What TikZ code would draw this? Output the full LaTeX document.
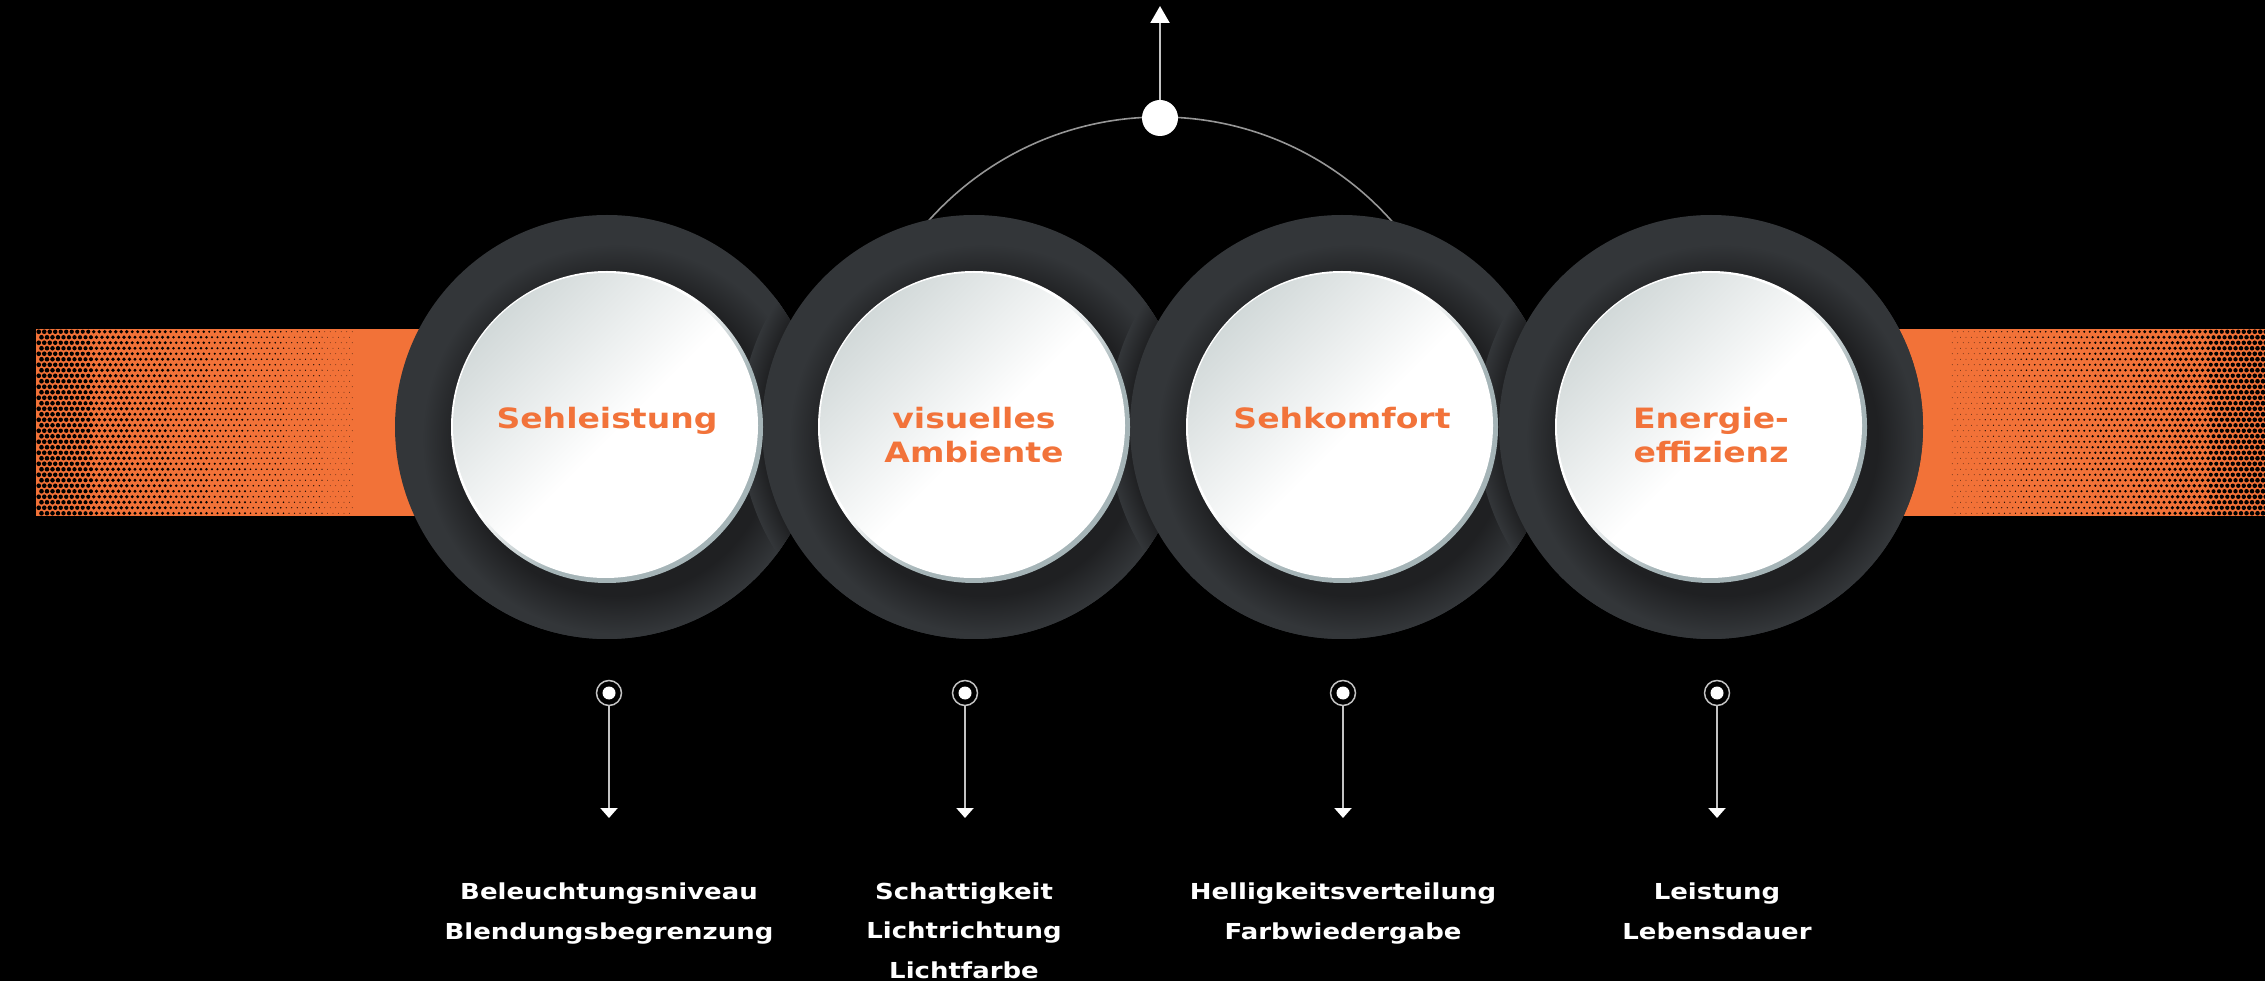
\documentclass[tikz,border=0pt]{standalone}
\usepackage{fontspec}
\usetikzlibrary{arrows.meta}
\newfontfamily\widefont[FakeStretch=1.18]{DejaVu Sans}
\definecolor{bandorange}{RGB}{242,114,56}
\definecolor{txtorange}{RGB}{242,115,58}
\definecolor{ringcol}{RGB}{51,54,57}
\definecolor{ringdark}{RGB}{31,32,34}
\definecolor{facegray}{RGB}{210,217,217}
\definecolor{rimgray}{RGB}{165,180,183}
\definecolor{linegray}{RGB}{195,195,195}
\definecolor{arcgray}{RGB}{150,150,150}
\pgfdeclareradialshading{ringshade}{\pgfpoint{0bp}{0bp}}{color(0bp)=(ringdark); color(18.5bp)=(ringdark); color(23bp)=(ringcol); color(25bp)=(ringcol); color(50bp)=(ringcol)}
\pgfdeclareradialshading{castshade}{\pgfpoint{0bp}{0bp}}{color(0bp)=(ringdark); color(22.6bp)=(ringdark); color(25bp)=(ringcol); color(50bp)=(ringcol)}
\pgfdeclareverticalshading{faceshade}{100bp}{color(0bp)=(white); color(48bp)=(white); color(75bp)=(facegray); color(100bp)=(facegray)}
\pgfdeclareverticalshading{rimshade}{100bp}{color(0bp)=(rimgray); color(40bp)=(rimgray); color(55bp)=(white); color(100bp)=(white)}
\tikzset{
  clabel/.style={font=\widefont\bfseries\fontsize{14}{17}\selectfont, text=txtorange, inner sep=0pt, align=center, anchor=base},
  blabel/.style={font=\widefont\bfseries\fontsize{11}{19.75}\selectfont, text=white, inner sep=0pt, align=center, anchor=base},
  marker/.style={circle, draw=linegray, line width=0.75pt, minimum size=12.5pt, inner sep=0pt,
    path picture={\fill[white] (path picture bounding box.center) circle (3.25pt);}},
  conn/.style={draw=linegray, line width=1pt, -{Triangle[width=8.5pt,length=5pt,color=white]}},
  topdot/.style={circle, fill=white, minimum size=18pt, inner sep=0pt},
  upconn/.style={draw=linegray, line width=1.1pt, -{Triangle[width=9.5pt,length=8.5pt,color=white]}},
  arcline/.style={draw=arcgray, line width=0.8pt}
}
\begin{document}
\begin{tikzpicture}[x=0.5pt,y=0.5pt]
\useasboundingbox (0,0) rectangle (2265,981);
\fill[black] (0,0) rectangle (2265,981);
% orange bands
\fill[bandorange] (36,465) rectangle (620,652);
\fill[bandorange] (1700,465) rectangle (2265,652);
% halftone dots
\foreach \j in {0,...,33}{
  \foreach \i in {0,...,66}{
    \pgfmathsetmacro\xx{38.75+5.5*\i+2.75*mod(\j,2)}
    \pgfmathsetmacro\rr{2.35*(400-\xx)/362}
    \ifdim\rr pt>0.3pt
      \fill[black] (\xx,{649.25-5.5*\j}) circle (\rr);
    \fi
    \pgfmathsetmacro\xr{1902.75+5.5*\i+2.75*mod(\j,2)}
    \pgfmathsetmacro\rq{2.35*(\xr-1905)/358}
    \ifdim\rq pt>0.3pt
      \fill[black] (\xr,{649.25-5.5*\j}) circle (\rq);
    \fi
  }
}
% arc behind circles
\draw[arcline] (1470,554) arc (0:180:310);
% dark rings
\foreach \cx/\nx in {607/974, 974/1342, 1342/1711, 1711/0}{
  \fill[ringcol] (\cx,554) circle (212);
  \begin{scope}
    \clip (\cx,554) circle (212);
    \shade[shading=ringshade] (\cx+10,542) circle (212);
    \ifnum\nx>0 \shade[shading=castshade] (\nx,554) circle (234); \fi
  \end{scope}
}
% white discs
\foreach \cx in {607,974,1342,1711}{
  \shade[shading=rimshade, shading angle=45] (\cx,554) circle (156);
  \shade[shading=faceshade, shading angle=45] (\cx-1.5,555.5) circle (152.5);
}
% circle labels
\node[clabel] (l1) at (607,552) {Sehleistung};
\node[clabel] (l2) at (974,518) {visuelles\\Ambiente};
\node[clabel] (l3) at (1342,552) {Sehkomfort};
\node[clabel] (l4) at (1711,518) {Energie-\\effizienz};
% top connector
\node[topdot] (td) at (1160,863) {};
\coordinate (tt) at (1160,975);
\draw[upconn] (td) -- (tt);
% bottom markers
\node[marker] (m1) at (609,288) {};
\node[marker] (m2) at (965,288) {};
\node[marker] (m3) at (1343,288) {};
\node[marker] (m4) at (1717,288) {};
\coordinate (a1) at (609,163);
\coordinate (a2) at (965,163);
\coordinate (a3) at (1343,163);
\coordinate (a4) at (1717,163);
\draw[conn] (m1) -- (a1);
\draw[conn] (m2) -- (a2);
\draw[conn] (m3) -- (a3);
\draw[conn] (m4) -- (a4);
% bottom labels
\node[blabel] (b1) at (609,42) {Beleuchtungsniveau\\Blendungsbegrenzung};
\node[blabel] (b2) at (964,3) {Schattigkeit\\Lichtrichtung\\Lichtfarbe};
\node[blabel] (b3) at (1343,42) {Helligkeitsverteilung\\Farbwiedergabe};
\node[blabel] (b4) at (1717,42) {Leistung\\Lebensdauer};
\end{tikzpicture}
\end{document}
